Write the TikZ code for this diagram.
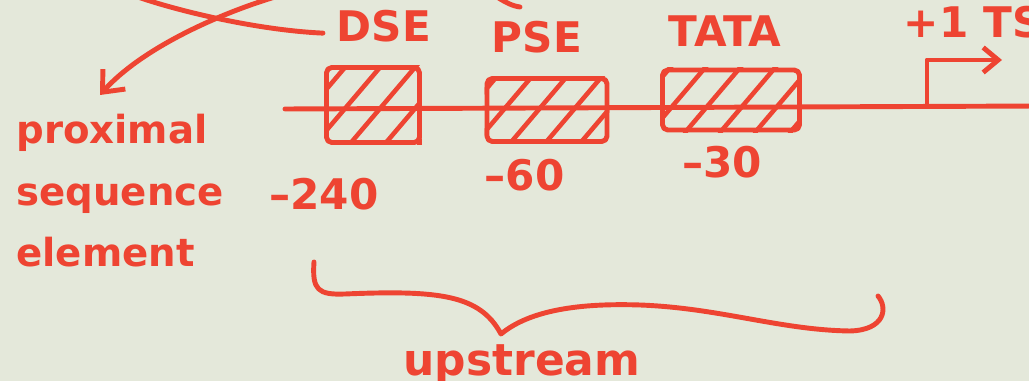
\documentclass[tikz,border=0pt]{standalone}
\usepackage{fontspec}
\setmainfont{DejaVu Sans}
\usepackage{xcolor}
\usetikzlibrary{arrows.meta,calc,positioning}
\definecolor{board}{RGB}{228,232,218}
\definecolor{ink}{RGB}{238,68,50}
\tikzset{
  elem/.style={draw,rounded corners=3pt,inner sep=0pt},
  lbl/.style={font=\fontsize{24}{28}\selectfont\bfseries,inner sep=2pt},
  hatch/.style={line width=2.6pt}
}
\begin{document}
\begin{tikzpicture}[x=0.02cm,y=-0.02cm,ink,line width=2.8pt,line cap=round,line join=round]

\fill[board] (0,0) rectangle (1029,381);
\useasboundingbox (0,0) rectangle (1029,381);

\coordinate (lstart) at (285,109);
\coordinate (lend) at (1040,106);
\draw (lstart) -- (lend);

\node[elem,minimum width=1.86cm,minimum height=1.5cm](dse) at (373,105) {};
\node[elem,minimum width=2.4cm,minimum height=1.26cm](pse) at (547,110) {};
\node[elem,minimum width=2.74cm,minimum height=1.2cm](tata) at (731,100) {};

\foreach \b in {dse,pse,tata}{
  \begin{scope}
    \clip (\b.south west) rectangle (\b.north east);
    \foreach \k in {-2.3,-1.6,...,3.0}
      \draw[hatch] ([xshift=\k cm]\b.south west) -- ++(85,-100);
  \end{scope}
}

\node[lbl,above=0.34cm of dse,xshift=0.22cm](dsel) {DSE};
\node[lbl,above=0.34cm of pse,xshift=-0.2cm](psel) {PSE};
\node[lbl,above=0.3cm of tata,xshift=-0.12cm](tatal) {TATA};

\node[lbl,below=0.55cm of dse.south west](n240) {–240};
\node[lbl,below=0.18cm of pse,xshift=-0.45cm](n60) {–60};
\node[lbl,below=0.16cm of tata,xshift=-0.18cm](n30) {–30};

\coordinate (tss) at (927,106);
\draw[-{Straight Barb[length=0.3cm,width=0.5cm]}] (tss) -- ++(0,-46) -- ++(75,0);
\node[lbl,anchor=west](tssl) at (898,22) {+1 TSS};

\node[font=\fontsize{22}{35}\selectfont\bfseries,align=left,anchor=north west,inner sep=0pt](prox) at (14,112) {proximal\\sequence\\element};

\coordinate (a0) at (138,-3);
\coordinate (b0) at (275,-3);
\draw (a0) .. controls (175,10) and (255,30) .. ($(dsel.west)+(-8,7)$);
\draw[-{Straight Barb[length=0.35cm,width=0.6cm]}] (b0) .. controls (215,15) and (140,50) .. ($(prox.north west)+(86,-17)$);
\draw (497,-3) .. controls (505,2) and (512,6) .. (520,7);

\coordinate (bl) at (314,262);
\coordinate (tip) at (501,334);
\coordinate (br) at (878,296);
\draw (bl) .. controls (312,290) and (318,295) .. (345,294)
  .. controls (440,290) and (480,295) .. (tip)
  .. controls (530,310) and (580,303) .. (640,305)
  .. controls (720,308) and (780,330) .. (850,331)
  .. controls (885,330) and (888,308) .. (br);
\node[font=\fontsize{25}{30}\selectfont\bfseries,below=0.05cm of tip,xshift=0.42cm](up) {upstream};

\end{tikzpicture}
\end{document}
